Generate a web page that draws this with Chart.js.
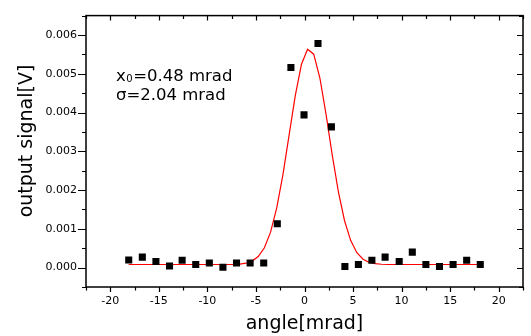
<!DOCTYPE html>
<html>
<head>
<meta charset="utf-8">
<script src="https://cdn.jsdelivr.net/npm/chart.js@4"></script>
<style>
  html, body { margin: 0; padding: 0; background: #fff; }
</style>
</head>
<body>
<canvas id="chart" width="531" height="336"></canvas>
<script>
"use strict";
///////////////////////////////
//Data
// measured points: angle [mrad] / output signal [V]
const angles = [-18.1, -16.7, -15.3, -13.9, -12.6, -11.2, -9.8, -8.4, -7.0, -5.6, -4.2, -2.8, -1.4, -0.05,
  1.39, 2.77, 4.16, 5.55, 6.94, 8.3, 9.75, 11.1, 12.5, 13.9, 15.3, 16.7, 18.1];
const signals = [0.000195, 0.00027, 0.00016, 0.00004, 0.00019, 0.00008, 0.00012, 0.00001, 0.00012, 0.00012,
  0.00012, 0.00113, 0.00516, 0.00394, 0.00578, 0.00363, 0.00003, 0.00008, 0.00019, 0.00027, 0.00016,
  0.0004, 0.00008, 0.00003, 0.00008, 0.00019, 0.00008];

// gaussian fit curve
const fitAngles = [-18.1, -7.94, -7.305, -6.67, -6.035, -5.4, -4.765, -4.13, -3.495, -2.86, -2.225, -1.59,
  -0.955, -0.32, 0.315, 0.95, 1.585, 2.22, 2.855, 3.49, 4.125, 4.76, 5.395, 6.03, 6.665, 7.3, 7.935, 8.57, 18.1];
const fitSignals = [0.00008, 0.00008, 0.000084, 0.000092, 0.000114, 0.000168, 0.000284, 0.000513, 0.000915,
  0.001538, 0.002393, 0.003409, 0.004429, 0.005238, 0.005632, 0.005504, 0.00489, 0.003951, 0.002909,
  0.001955, 0.001209, 0.000697, 0.000386, 0.000218, 0.000136, 0.000101, 0.000087, 0.00008, 0.00008];

// axes
const xMin = -22.5, xMax = 22.5, xStep = 2.5, xMajor = 5;
const yMin = -0.0005, yMax = 0.0065, yStep = 0.0005, yMajor = 0.001;
const xTitle = "angle[mrad]";
const yTitle = "output signal[V]";
const fitLines = [["x", "0", "=0.48 mrad"], ["σ", "", "=2.04 mrad"]];

const font = "'DejaVu Sans', sans-serif";
const isMajor = (v, step) => Math.abs(v / step - Math.round(v / step)) < 1e-6;

//////////////////////////////
//Plugin: frame, ticks on all four sides, titles, fit text
const framePlugin = {
  id: "frame",
  afterDraw(chart) {
    const ctx = chart.ctx;
    const a = chart.chartArea;
    const xs = chart.scales.x;
    const ys = chart.scales.y;
    ctx.save();
    ctx.strokeStyle = "#000";
    ctx.lineWidth = 1.5;
    ctx.strokeRect(a.left, a.top, a.right - a.left, a.bottom - a.top);

    ctx.lineWidth = 1.2;
    ctx.beginPath();
    xs.ticks.forEach(function (t) {
      const px = Math.round(xs.getPixelForValue(t.value)) + 0.5;
      const big = isMajor(t.value, xMajor);
      // bottom, outward
      ctx.moveTo(px, a.bottom);
      ctx.lineTo(px, a.bottom + (big ? 5 : 3.5));
      // top, inward
      ctx.moveTo(px, a.top);
      ctx.lineTo(px, a.top + (big ? 5 : 3.5));
    });
    ys.ticks.forEach(function (t) {
      const py = Math.round(ys.getPixelForValue(t.value)) + 0.5;
      const big = isMajor(t.value, yMajor);
      // left, outward
      ctx.moveTo(a.left, py);
      ctx.lineTo(a.left - (big ? 8 : 4), py);
      // right, inward
      ctx.moveTo(a.right, py);
      ctx.lineTo(a.right - (big ? 6 : 4), py);
    });
    ctx.stroke();

    ctx.fillStyle = "#000";
    // axis titles
    ctx.font = "19px " + font;
    ctx.textAlign = "center";
    ctx.textBaseline = "alphabetic";
    ctx.fillText(xTitle, (a.left + a.right) / 2, 329);
    ctx.save();
    ctx.translate(32, 141);
    ctx.rotate(-Math.PI / 2);
    ctx.fillText(yTitle, 0, 0);
    ctx.restore();

    // fit results
    ctx.textAlign = "left";
    let baseY = 80.5;
    fitLines.forEach(function (line) {
      let x = 116;
      ctx.font = "16.5px " + font;
      ctx.fillText(line[0], x, baseY);
      x += ctx.measureText(line[0]).width;
      if (line[1]) {
        ctx.font = "10px " + font;
        ctx.fillText(line[1], x + 0.5, baseY + 1.5);
        x += ctx.measureText(line[1]).width + 1;
      }
      ctx.font = "16.5px " + font;
      ctx.fillText(line[2], x, baseY);
      baseY += 19;
    });
    ctx.restore();
  },
};

//////////////////////////////
//Chart
const chart = new Chart(document.getElementById("chart"), {
  type: "scatter",
  data: {
    datasets: [
      {
        label: "data",
        data: angles.map((a, i) => ({ x: a, y: signals[i] })),
        pointStyle: "rect",
        pointRadius: 5,
        pointBorderWidth: 0,
        backgroundColor: "#000",
        borderColor: "#000",
        showLine: false,
        order: 1,
      },
      {
        label: "fit",
        data: fitAngles.map((a, i) => ({ x: a, y: fitSignals[i] })),
        showLine: true,
        borderColor: "#ff0000",
        borderWidth: 1.2,
        pointRadius: 0,
        tension: 0,
        order: 2,
      },
    ],
  },
  options: {
    responsive: false,
    animation: false,
    devicePixelRatio: 1,
    layout: { padding: { top: 11, right: 2, left: 0, bottom: 0 } },
    plugins: {
      legend: { display: false },
      tooltip: { enabled: false },
    },
    scales: {
      x: {
        type: "linear",
        min: xMin,
        max: xMax,
        afterFit: (s) => { s.height = 49; },
        border: { display: false },
        grid: { display: false, drawTicks: false },
        ticks: {
          stepSize: xStep,
          autoSkip: false,
          maxRotation: 0,
          padding: 8,
          color: "#000",
          font: { family: font, size: 11 },
          callback: (v) => (isMajor(v, xMajor) ? String(Math.round(v)) : ""),
        },
      },
      y: {
        type: "linear",
        min: yMin,
        max: yMax,
        afterFit: (s) => { s.width = 86; },
        border: { display: false },
        grid: { display: false, drawTicks: false },
        ticks: {
          stepSize: yStep,
          autoSkip: false,
          padding: 9,
          color: "#000",
          font: { family: font, size: 11 },
          callback: (v) => (isMajor(v, yMajor) ? Math.abs(v) < 1e-9 ? "0.000" : v.toFixed(3) : ""),
        },
      },
    },
  },
  plugins: [framePlugin],
});
</script>
</body>
</html>
